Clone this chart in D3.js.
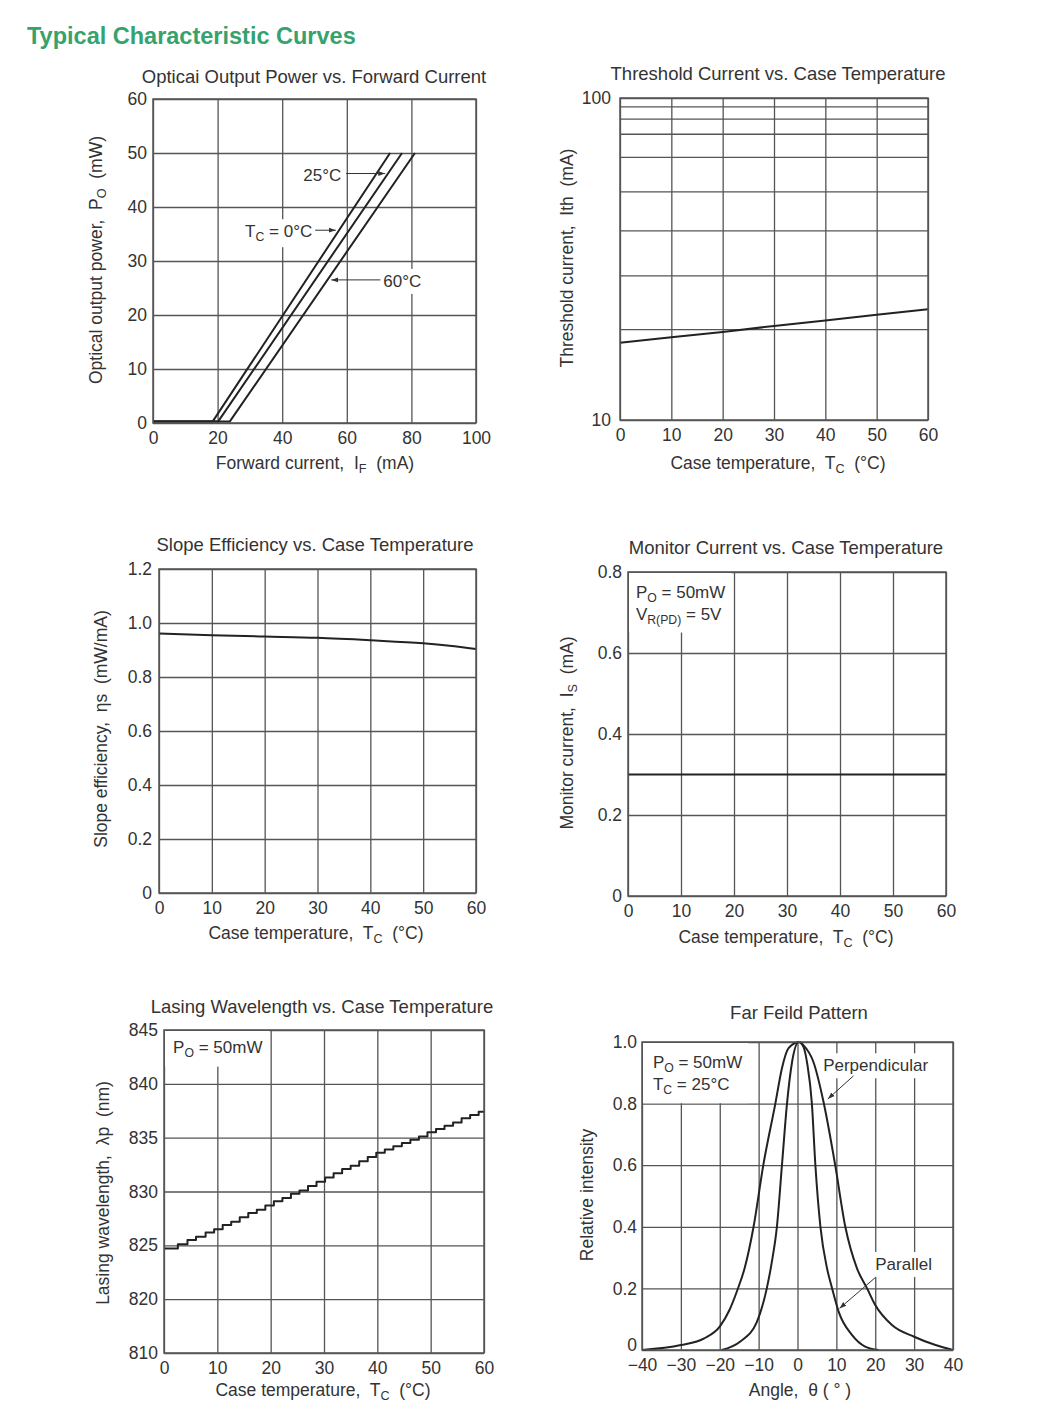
<!DOCTYPE html>
<html lang="en">
<head>
<meta charset="UTF-8">
<title>Typical Characteristic Curves</title>
<script src="https://d3js.org/d3.v7.min.js"></script>
<style>
  body { margin: 0; background: #fff; }
  svg text { font-family: "Liberation Sans", Arial, sans-serif; fill: #333; white-space: pre; }
</style>
</head>
<body>
<script>
// ---- data: optical output power vs forward current
const ifTicks = [0, 20, 40, 60, 80, 100];
const poTicks = [0, 10, 20, 30, 40, 50, 60];
const if0C = [0, 18.5, 73.4];
const if25C = [0, 20.2, 77.1];
const if60C = [0, 23.8, 81.1];
const poLevels = [0.3, 0.3, 50];

// ---- threshold current vs case temperature (log grid)
const tcTicks = [0, 10, 20, 30, 40, 50, 60];
const ithGrid = [10, 20, 30, 40, 50, 60, 70, 80, 90, 100];
const ithLabels = [10, 100];
const ithTc = [0, 10, 20, 30, 40, 50, 60];
const ith = [18.5, 19.1, 19.7, 20.6, 21.6, 22.7, 23.7];

// ---- slope efficiency
const slopeTicks = [0, 0.2, 0.4, 0.6, 0.8, 1.0, 1.2];
const slopeTc = [0, 10, 20, 30, 40, 50, 55, 60];
const slope = [0.961, 0.955, 0.950, 0.945, 0.936, 0.925, 0.916, 0.904];

// ---- monitor current
const monTicks = [0, 0.2, 0.4, 0.6, 0.8];
const monTc = [0, 60];
const mon = [0.3, 0.3];

// ---- lasing wavelength (axis has a break between 810 and 820)
const wlTicks = [810, 820, 825, 830, 835, 840, 845];
const wlTc = [0, 2.6, 4.4, 6.0, 7.8, 9.4, 11.0, 12.6, 14.2, 15.8, 17.4, 19.0, 20.6, 22.2, 23.8,
  25.4, 27.0, 28.6, 30.2, 31.8, 33.4, 35.0, 36.6, 38.2, 39.8, 41.4, 43.0, 44.6, 46.2, 47.8,
  49.4, 51.0, 52.6, 54.2, 55.8, 57.4, 59.0, 60];
const wl = [824.7, 825.1, 825.5, 825.8, 826.2, 826.5, 826.9, 827.2, 827.6, 828.0, 828.3, 828.7,
  829.1, 829.4, 829.8, 830.1, 830.5, 830.9, 831.3, 831.7, 832.1, 832.4, 832.8, 833.2, 833.6,
  833.9, 834.2, 834.5, 834.8, 835.1, 835.5, 835.8, 836.1, 836.4, 836.8, 837.1, 837.4, 837.5];

// ---- far field pattern
const angTicks = [-40, -30, -20, -10, 0, 10, 20, 30, 40];
const relTicks = [0, 0.2, 0.4, 0.6, 0.8, 1.0];
const perpAng = [-40, -30, -24, -20, -17.5, -15.6, -13.5, -11.3, -8.8, -5.7, -4, -2.3, 0.5, 1.5,
  4.1, 6.7, 9.7, 12.3, 15.3, 17.9, 20, 24.3, 30, 35.5, 40];
const perpI = [0, 0.016, 0.038, 0.076, 0.13, 0.19, 0.27, 0.4, 0.6, 0.8, 0.915, 0.98, 1.0, 0.99,
  0.935, 0.805, 0.6, 0.4, 0.265, 0.2, 0.146, 0.081, 0.043, 0.016, 0];
const parAng = [-19.5, -14.8, -10.5, -7.9, -6.6, -5.3, -4.0, -2.7, -1.4, 0.3, 1.5, 2.5, 3.7, 4.6,
  5.9, 7.6, 8.9, 10.6, 14, 17.4, 20.9];
const parI = [0, 0.027, 0.09, 0.2, 0.286, 0.4, 0.6, 0.8, 0.935, 1.0, 0.985, 0.93, 0.8, 0.6,
  0.4, 0.265, 0.2, 0.124, 0.049, 0.011, 0];

// ---------------------------------------------------------------
const svg = d3.select("body").append("svg").attr("width", 1052).attr("height", 1403);

const defs = svg.append("defs");
defs.append("marker").attr("id", "arr")
  .attr("viewBox", "0 0 10 10").attr("refX", 10).attr("refY", 5)
  .attr("markerWidth", 7).attr("markerHeight", 7).attr("orient", "auto")
  .append("path").attr("d", "M0,1.5L10,5L0,8.5Z").attr("fill", "#333");

svg.append("text").attr("x", 27).attr("y", 44)
  .attr("font-size", 23.5).attr("font-weight", "bold")
  .style("fill", "#36a26e").text("Typical Characteristic Curves");

const gridCol = "#555", lineCol = "#222";
const tickSize = 17.5, labSize = 17.5;

// text with optional subscripts: parts are strings or {sub: "..."}
function rich(t, parts, size) {
  let down = false;
  parts.forEach(p => {
    if (typeof p === "string") {
      t.append("tspan").attr("dy", down ? -4 : 0).text(p);
      down = false;
    } else {
      t.append("tspan").attr("dy", 4).attr("font-size", size * 0.72).text(p.sub);
      down = true;
    }
  });
  return t;
}

function frame(b, x, y, o) {
  const g = svg.append("g");
  const layers = {
    grid: g.append("g"), note: g.append("g"), curve: g.append("g"), top: g.append("g")
  };

  const xa = layers.grid.append("g").attr("transform", `translate(0,${b.b})`)
    .call(d3.axisBottom(x).tickValues(o.xTicks).tickSize(-(b.b - b.t))
      .tickPadding(9).tickFormat(o.xFmt || (d => d)));
  const ya = layers.grid.append("g").attr("transform", `translate(${b.l},0)`)
    .call(d3.axisLeft(y).tickValues(o.yTicks).tickSize(-(b.r - b.l))
      .tickPadding(o.yPad || 6).tickFormat(o.yFmt || (d => d)));
  [xa, ya].forEach(a => {
    a.select(".domain").remove();
    a.selectAll("line").attr("stroke", gridCol).attr("stroke-width", 1.3);
    a.selectAll("text").attr("font-size", tickSize).style("fill", "#333")
      .attr("font-family", "Liberation Sans, Arial, sans-serif");
  });
  // the "0" of the value axis sits a little above the corner, clear of the x labels
  if (o.zeroUp) ya.selectAll(".tick text").filter(d => d === o.yTicks[0]).attr("dy", "0.05em");

  layers.top.append("rect").attr("x", b.l).attr("y", b.t)
    .attr("width", b.r - b.l).attr("height", b.b - b.t)
    .attr("fill", "none").attr("stroke", gridCol).attr("stroke-width", 1.5);

  svg.append("text").attr("x", o.title[0]).attr("y", o.title[1])
    .attr("text-anchor", "middle").attr("font-size", 18.5).text(o.title[2]);
  rich(svg.append("text").attr("x", o.xTitle[0]).attr("y", o.xTitle[1])
    .attr("text-anchor", "middle").attr("font-size", labSize), o.xTitle[2], labSize);
  rich(svg.append("text").attr("text-anchor", "middle").attr("font-size", labSize)
    .attr("transform", `translate(${o.yTitle[0]},${o.yTitle[1]}) rotate(-90)`), o.yTitle[2], labSize);
  return layers;
}

// text block on a white patch (hides grid behind it)
function note(layer, px, py, lines, opt = {}) {
  const g = layer.append("g");
  const texts = lines.map((parts, i) =>
    rich(g.append("text").attr("x", px).attr("y", py + i * 22)
      .attr("text-anchor", opt.anchor || "start").attr("font-size", 17), parts, 17));
  let x0 = Infinity, y0 = Infinity, x1 = -Infinity, y1 = -Infinity;
  texts.forEach(t => {
    const bb = t.node().getBBox();
    x0 = Math.min(x0, bb.x); y0 = Math.min(y0, bb.y);
    x1 = Math.max(x1, bb.x + bb.width); y1 = Math.max(y1, bb.y + bb.height);
  });
  const pad = opt.pad || 3;
  const c = opt.corner;
  g.insert("rect", "text")
    .attr("x", c ? c[0] + 1 : x0 - pad).attr("y", c ? c[1] + 1 : y0 - pad)
    .attr("width", (x1 + pad) - (c ? c[0] + 1 : x0 - pad))
    .attr("height", (y1 + pad) - (c ? c[1] + 1 : y0 - pad))
    .attr("fill", "#fff");
}

function arrow(layer, x, y, a, b) {
  layer.append("line")
    .attr("x1", x(a[0])).attr("y1", y(a[1])).attr("x2", x(b[0])).attr("y2", y(b[1]))
    .attr("stroke", "#333").attr("stroke-width", 1).attr("marker-end", "url(#arr)");
}

function curve(layer, x, y, xs, ys, c) {
  const pts = xs.map((v, i) => [v, ys[i]]);
  layer.append("path").datum(pts)
    .attr("d", d3.line().x(d => x(d[0])).y(d => y(d[1])).curve(c || d3.curveLinear))
    .attr("fill", "none").attr("stroke", lineCol).attr("stroke-width", 2)
    .attr("stroke-linejoin", "round");
}

// ---- chart 1
{
  const b = {l: 153, t: 99, r: 476, b: 423};
  const x = d3.scaleLinear().domain([0, 100]).range([b.l, b.r]);
  const y = d3.scaleLinear().domain([0, 60]).range([b.b, b.t]);
  const L = frame(b, x, y, {
    xTicks: ifTicks, yTicks: poTicks,
    title: [314, 83, "Opticai Output Power vs. Forward Current"],
    xTitle: [315, 469, ["Forward current,  I", {sub: "F"}, "  (mA)"]],
    yTitle: [102, 260, ["Optical output power,  P", {sub: "O"}, "  (mW)"]]
  });
  note(L.note, x(58.3), y(44.8), [["25°C"]], {anchor: "end"});
  note(L.note, x(49.3), y(34.4), [["T", {sub: "C"}, " = 0°C"]], {anchor: "end"});
  note(L.note, x(71.3), y(25.2), [["60°C"]]);
  [if0C, if25C, if60C].forEach(s => curve(L.curve, x, y, s, poLevels));
  arrow(L.top, x, y, [59.8, 46.2], [71.9, 46.2]);
  arrow(L.top, x, y, [50.2, 35.7], [56.6, 35.7]);
  arrow(L.top, x, y, [70.4, 26.5], [55.2, 26.5]);
}

// ---- chart 2
{
  const b = {l: 620, t: 98, r: 928, b: 420};
  // grid spacing as printed on the sheet (fraction of plot height per decade line)
  const gridFrac = [0, 0.282, 0.449, 0.589, 0.710, 0.817, 0.889, 0.936, 0.974, 1];
  const x = d3.scaleLinear().domain([0, 60]).range([b.l, b.r]);
  const y = d3.scaleLinear().domain(ithGrid).range(gridFrac.map(f => b.b - f * (b.b - b.t)));
  const L = frame(b, x, y, {
    xTicks: tcTicks, yTicks: ithGrid, yPad: 9,
    yFmt: d => ithLabels.includes(d) ? d : "",
    title: [778, 80, "Threshold Current vs. Case Temperature"],
    xTitle: [778, 469, ["Case temperature,  T", {sub: "C"}, "  (°C)"]],
    yTitle: [573, 258, ["Threshold current,  Ith  (mA)"]]
  });
  curve(L.curve, x, y, ithTc, ith);
}

// ---- chart 3
{
  const b = {l: 159, t: 569, r: 476, b: 893};
  const x = d3.scaleLinear().domain([0, 60]).range([b.l, b.r]);
  const y = d3.scaleLinear().domain([0, 1.2]).range([b.b, b.t]);
  const L = frame(b, x, y, {
    xTicks: tcTicks, yTicks: slopeTicks, yPad: 7,
    yFmt: d => d === 0 ? "0" : d.toFixed(1),
    title: [315, 551, "Slope Efficiency vs. Case Temperature"],
    xTitle: [316, 939, ["Case temperature,  T", {sub: "C"}, "  (°C)"]],
    yTitle: [107, 729, ["Slope efficiency,  ηs  (mW/mA)"]]
  });
  curve(L.curve, x, y, slopeTc, slope, d3.curveMonotoneX);
}

// ---- chart 4
{
  const b = {l: 628, t: 572, r: 946, b: 896};
  const x = d3.scaleLinear().domain([0, 60]).range([b.l, b.r]);
  const y = d3.scaleLinear().domain([0, 0.8]).range([b.b, b.t]);
  const L = frame(b, x, y, {
    xTicks: tcTicks, yTicks: monTicks,
    yFmt: d => d === 0 ? "0" : d.toFixed(1),
    title: [786, 554, "Monitor Current vs. Case Temperature"],
    xTitle: [786, 943, ["Case temperature,  T", {sub: "C"}, "  (°C)"]],
    yTitle: [573, 733, ["Monitor current,  I", {sub: "S"}, "  (mA)"]]
  });
  note(L.note, x(1.5), y(0.737), [["P", {sub: "O"}, " = 50mW"], ["V", {sub: "R(PD)"}, " = 5V"]],
    {corner: [b.l, b.t], pad: 6});
  curve(L.curve, x, y, monTc, mon);
}

// ---- chart 5
{
  const b = {l: 164, t: 1030, r: 484, b: 1353};
  const x = d3.scaleLinear().domain([0, 60]).range([b.l, b.r]);
  const y = d3.scaleLinear().domain(wlTicks)
    .range(wlTicks.map((d, i) => b.b - i * (b.b - b.t) / (wlTicks.length - 1)));
  const L = frame(b, x, y, {
    xTicks: tcTicks, yTicks: wlTicks,
    title: [322, 1013, "Lasing Wavelength vs. Case Temperature"],
    xTitle: [323, 1396, ["Case temperature,  T", {sub: "C"}, "  (°C)"]],
    yTitle: [109, 1193, ["Lasing wavelength,  λp  (nm)"]]
  });
  note(L.note, x(1.7), y(842.9), [["P", {sub: "O"}, " = 50mW"]], {corner: [b.l, b.t], pad: 7});
  curve(L.curve, x, y, wlTc, wl, d3.curveStepAfter);
}

// ---- chart 6
{
  const b = {l: 642, t: 1042, r: 953, b: 1350};
  const x = d3.scaleLinear().domain([-40, 40]).range([b.l, b.r]);
  const y = d3.scaleLinear().domain([0, 1]).range([b.b, b.t]);
  const L = frame(b, x, y, {
    xTicks: angTicks, yTicks: relTicks, yPad: 5, zeroUp: true,
    xFmt: d => d < 0 ? "\u2212" + (-d) : d,
    yFmt: d => d === 0 ? "0" : d.toFixed(1),
    title: [799, 1019, "Far Feild Pattern"],
    xTitle: [800, 1396, ["Angle,  θ ( ° )"]],
    yTitle: [593, 1195, ["Relative intensity"]]
  });
  note(L.note, x(-37.2), y(0.915), [["P", {sub: "O"}, " = 50mW"], ["T", {sub: "C"}, " = 25°C"]],
    {corner: [b.l, b.t], pad: 6});
  note(L.note, x(6.6), y(0.905), [["Perpendicular"]]);
  note(L.note, x(20), y(0.26), [["Parallel"]]);
  curve(L.curve, x, y, perpAng, perpI, d3.curveMonotoneX);
  curve(L.curve, x, y, parAng, parI, d3.curveMonotoneX);
  arrow(L.top, x, y, [14.4, 0.89], [7.8, 0.815]);
  arrow(L.top, x, y, [20, 0.235], [10.8, 0.135]);
}
</script>
</body>
</html>
